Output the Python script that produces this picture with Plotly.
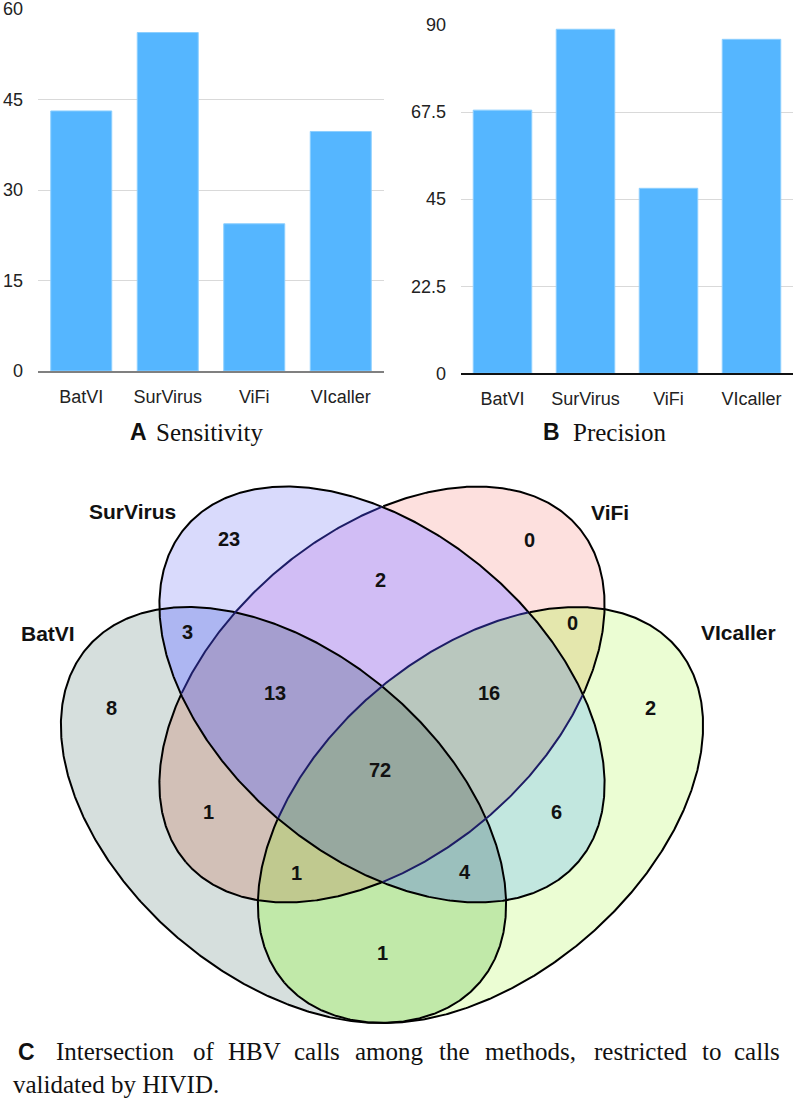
import numpy as np
import plotly.graph_objects as go

# ---------------- data ----------------
methods = ["BatVI", "SurVirus", "ViFi", "VIcaller"]
sensitivity = [43.1, 56.1, 24.4, 39.7]
precision = [68.0, 88.9, 47.8, 86.3]
sens_ticks = [0, 15, 30, 45, 60]
sens_ticklabels = ["0", "15", "30", "45", "60"]
prec_ticks = [0, 22.5, 45, 67.5, 90]
prec_ticklabels = ["0", "22.5", "45", "67.5", "90"]

venn_sets = ["BatVI", "SurVirus", "ViFi", "VIcaller"]
# membership string: BatVI, SurVirus, ViFi, VIcaller
region_keys = ["1000", "0100", "0010", "0001", "1100", "0110", "0011", "1001",
               "1010", "0101", "1110", "0111", "1011", "1101", "1111"]
region_counts = [8, 23, 0, 2, 3, 2, 0, 1, 1, 6, 13, 16, 1, 4, 72]

# ---------------- styles / layout geometry ----------------
bar_color = "#55b6ff"
bar_edge = "#8ccfff"
W, H = 796, 1102

# ellipse shapes (pixel space of the Venn panel, y downward)
ell_cx = [283.5, 382.0, 382.0, 480.5]
ell_cy = [815.0, 694.5, 694.5, 815.0]
ell_ang = [40.5, 40.5, 139.5, 139.5]
ell_a, ell_b = 258.0, 162.0

# fill colour of each region (keyed by bit code BatVI=1, SurVirus=2, ViFi=4, VIcaller=8)
region_fill = {
    1: "#d6dfdd", 2: "#d9dafc", 3: "#adb6f2", 4: "#fde0de", 5: "#d2c0b7",
    6: "#d1bdf5", 7: "#a59ecf", 8: "#ebfdd3", 9: "#c1e9a9", 10: "#c2e7df",
    11: "#9bc0bd", 12: "#e4e7ad", 13: "#c0c98f", 14: "#b9c7be", 15: "#97a89f",
}
# label placement for counts, keyed like region_keys
count_pos = {
    "1000": (111, 708), "0100": (229, 539), "0010": (529, 540), "0001": (650, 708),
    "1100": (187, 632), "0110": (380, 580), "0011": (572, 623), "1001": (382, 953),
    "1010": (208, 812), "0101": (556, 812), "1110": (275, 693), "0111": (489, 693),
    "1011": (296, 873), "1101": (465, 872), "1111": (380, 770),
}
set_label_pos = [(48, 633), (132, 511), (610, 512), (738, 632)]


def inside(k, X, Y):
    th = np.deg2rad(ell_ang[k])
    dx, dy = X - ell_cx[k], Y - ell_cy[k]
    u = dx * np.cos(th) + dy * np.sin(th)
    v = -dx * np.sin(th) + dy * np.cos(th)
    return (u / ell_a) ** 2 + (v / ell_b) ** 2 <= 1.0


def outline(k, n=900):
    th = np.deg2rad(ell_ang[k])
    t = np.linspace(0, 2 * np.pi, n)
    x = ell_cx[k] + ell_a * np.cos(t) * np.cos(th) - ell_b * np.sin(t) * np.sin(th)
    y = ell_cy[k] + ell_a * np.cos(t) * np.sin(th) + ell_b * np.sin(t) * np.cos(th)
    return x, y


fig = go.Figure()

# ---------------- bar charts ----------------
fig.add_trace(go.Bar(x=methods, y=sensitivity, xaxis="x", yaxis="y",
                     marker=dict(color=bar_color, line=dict(color=bar_edge, width=1)),
                     hoverinfo="skip"))
fig.add_trace(go.Bar(x=methods, y=precision, xaxis="x2", yaxis="y2",
                     marker=dict(color=bar_color, line=dict(color=bar_edge, width=1)),
                     hoverinfo="skip"))

# ---------------- Venn fills (region raster) ----------------
xs = np.arange(56, 712, 1.0)
ys = np.arange(484, 1028, 1.0)
X, Y = np.meshgrid(xs, ys)
code = np.zeros(X.shape)
for k in range(4):
    code += inside(k, X, Y) * (2 ** k)
z = np.where(code == 0, np.nan, code)
cs = []
for i in range(15):
    col = region_fill[i + 1]
    cs.append([i / 15, col])
    cs.append([(i + 1) / 15, col])
fig.add_trace(go.Heatmap(x=xs, y=ys, z=z, xaxis="x3", yaxis="y3", colorscale=cs,
                         zmin=0.5, zmax=15.5, showscale=False, hoverinfo="skip",
                         zsmooth=False))

# ---------------- Venn outlines ----------------
line_w = 2.0
navy = "#1d1d66"
for k in range(4):
    x, y = outline(k)
    if k in (2, 3):
        inB = inside(1, x, y)
        xb = np.where(inB, x, np.nan)
        yb = np.where(inB, y, np.nan)
        xo = np.where(~inB, x, np.nan)
        yo = np.where(~inB, y, np.nan)
        fig.add_trace(go.Scatter(x=xo, y=yo, xaxis="x3", yaxis="y3", mode="lines",
                                 line=dict(color="black", width=line_w), hoverinfo="skip"))
        fig.add_trace(go.Scatter(x=xb, y=yb, xaxis="x3", yaxis="y3", mode="lines",
                                 line=dict(color=navy, width=line_w), hoverinfo="skip"))
    else:
        fig.add_trace(go.Scatter(x=x, y=y, xaxis="x3", yaxis="y3", mode="lines",
                                 line=dict(color="black", width=line_w), hoverinfo="skip"))

ann = []
num_font = dict(family="Liberation Sans, Arial, sans-serif", size=20, color="#111111")
for key, cnt in zip(region_keys, region_counts):
    px, py = count_pos[key]
    ann.append(dict(x=px, y=py, xref="x3", yref="y3", text="<b>%d</b>" % cnt, showarrow=False,
                    xanchor="center", yanchor="middle", font=num_font))
lab_font = dict(family="Liberation Sans, Arial, sans-serif", size=21, color="#111111")
for name, (px, py) in zip(venn_sets, set_label_pos):
    ann.append(dict(x=px, y=py, xref="x3", yref="y3", text="<b>%s</b>" % name,
                    showarrow=False, xanchor="center", yanchor="middle", font=lab_font))

# ---------------- captions ----------------
sans_b = dict(family="Liberation Sans, Arial, sans-serif", size=23, color="#111111")
serif = dict(family="Liberation Serif, Times New Roman, serif", size=25, color="#111111")
ann.append(dict(x=128, y=432, xref="x3", yref="y3", text="<b>A</b>", showarrow=False,
                xanchor="left", yanchor="middle", font=sans_b))
ann.append(dict(x=154, y=432, xref="x3", yref="y3", text="Sensitivity", showarrow=False,
                xanchor="left", yanchor="middle", font=serif))
ann.append(dict(x=541, y=432, xref="x3", yref="y3", text="<b>B</b>", showarrow=False,
                xanchor="left", yanchor="middle", font=sans_b))
ann.append(dict(x=571, y=432, xref="x3", yref="y3", text="Precision", showarrow=False,
                xanchor="left", yanchor="middle", font=serif))

ann.append(dict(x=16, y=1052, xref="x3", yref="y3", text="<b>C</b>", showarrow=False,
                xanchor="left", yanchor="middle", font=sans_b))
line1_words = ["Intersection", "of", "HBV", "calls", "among", "the", "methods,",
               "restricted", "to", "calls"]
line1_x = [54, 191, 226, 292, 353, 437, 483, 592, 700, 732]
for wd, wx in zip(line1_words, line1_x):
    ann.append(dict(x=wx, y=1051, xref="x3", yref="y3", text=wd, showarrow=False,
                    xanchor="left", yanchor="middle", font=serif))
ann.append(dict(x=11, y=1084, xref="x3", yref="y3", text="validated by HIVID.",
                showarrow=False, xanchor="left", yanchor="middle", font=serif))

tick_font = dict(family="Liberation Sans, Arial, sans-serif", size=18, color="#222222")
fig.update_layout(
    width=W, height=H, margin=dict(l=0, r=0, t=0, b=0, pad=0, autoexpand=False),
    autosize=False,
    paper_bgcolor="white", plot_bgcolor="rgba(0,0,0,0)", showlegend=False,
    bargap=0.295, annotations=ann,
    xaxis=dict(domain=[38 / W, 384 / W], anchor="y", showgrid=False, ticks="",
               showline=True, linecolor="#808080", linewidth=2, tickfont=tick_font,
               ticklabelstandoff=8, fixedrange=True, automargin=False,
               ticklabeloverflow="allow"),
    yaxis=dict(domain=[1 - 371 / H, 1 - 9 / H], anchor="x", range=[0, 60],
               tickvals=sens_ticks, ticktext=sens_ticklabels, showgrid=True,
               gridcolor="#d9d9d9", gridwidth=1, zeroline=False, ticks="",
               tickfont=tick_font, ticklabelstandoff=14, fixedrange=True,
               automargin=False, ticklabeloverflow="allow"),
    xaxis2=dict(domain=[461 / W, 793 / W], anchor="y2", showgrid=False, ticks="",
                showline=True, linecolor="#111111", linewidth=2, tickfont=tick_font,
                ticklabelstandoff=8, fixedrange=True, automargin=False,
                ticklabeloverflow="allow"),
    yaxis2=dict(domain=[1 - 373.3 / H, 1 - 25 / H], anchor="x2", range=[0, 90],
                tickvals=prec_ticks, ticktext=prec_ticklabels, showgrid=True,
                gridcolor="#d9d9d9", gridwidth=1, zeroline=False, ticks="",
                tickfont=tick_font, ticklabelstandoff=14, fixedrange=True,
                automargin=False, ticklabeloverflow="allow"),
    xaxis3=dict(domain=[0, 1], range=[0, W], anchor="y3", visible=False,
                fixedrange=True, automargin=False),
    yaxis3=dict(domain=[0, 1], range=[H, 0], anchor="x3", visible=False,
                fixedrange=True, automargin=False),
)

fig.write_html("out.html", config={"displayModeBar": False, "staticPlot": True},
               post_script="document.body.style.margin='0';")
